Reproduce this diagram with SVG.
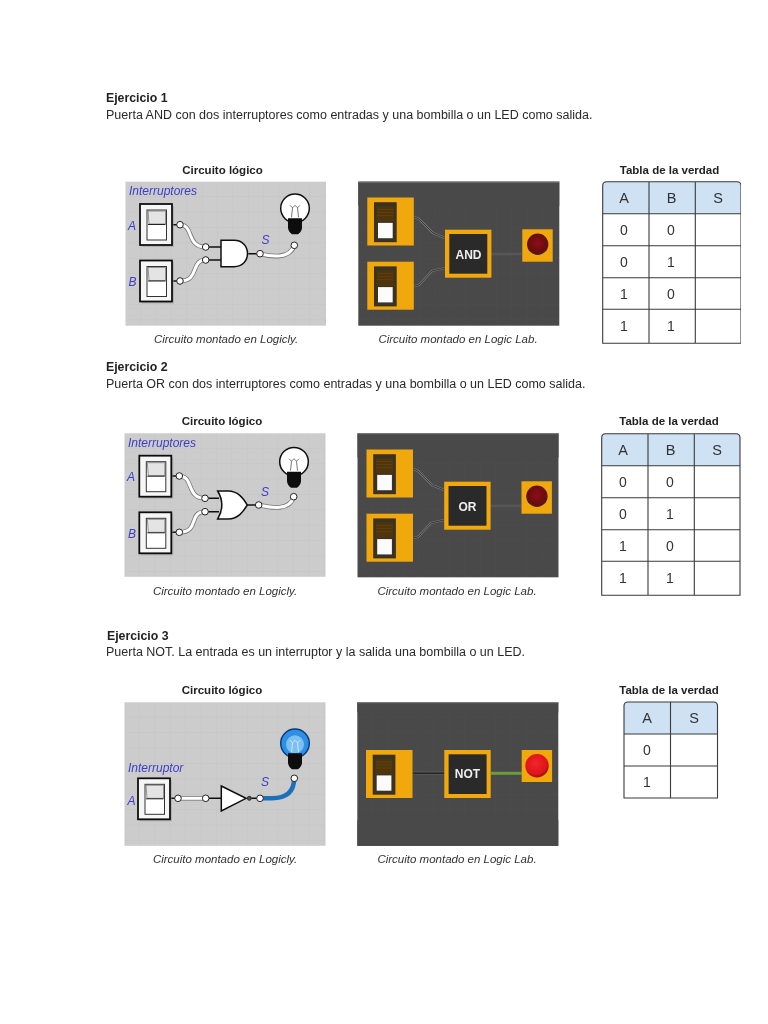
<svg xmlns="http://www.w3.org/2000/svg" width="768" height="1024" viewBox="0 0 768 1024">
<style>
text{font-family:"Liberation Sans",Arial,sans-serif;fill:#222}
.h{font-size:12.300px;font-weight:bold}
.p{font-size:12.500px;fill:#2a2a2a}
.t{font-size:11.500px;font-weight:bold;text-anchor:middle}
.c{font-size:11.500px;font-style:italic;text-anchor:middle;fill:#333}
.l{font-size:12px;font-style:italic;fill:#3c3cc8}
.th{font-size:14.500px;text-anchor:middle;fill:#333}
.td{font-size:14px;text-anchor:middle;fill:#333}
.tl{fill:none;stroke:#3a3a3a;stroke-width:1.100}
.gt{font-size:12px;font-weight:bold;text-anchor:middle;fill:#eee}
.wo{fill:none;stroke:#777;stroke-width:4.600}
.wi{fill:none;stroke:#fff;stroke-width:3}
.wb{fill:none;stroke:#1f6fb8;stroke-width:4.500}
.bk{fill:none;stroke:#111;stroke-width:1.600}
.pin{fill:#fff;stroke:#222;stroke-width:1}
.ww{fill:none;stroke:#7a7a7a;stroke-width:2.200}
.wd{fill:none;stroke:#2e2e2e;stroke-width:0.900}
</style>
<defs>
<filter id="soft" x="0" y="0" width="100%" height="100%"><feGaussianBlur stdDeviation="0.35"/></filter>
<radialGradient id="redOn" cx="0.450" cy="0.400" r="0.600"><stop offset="0" stop-color="#f0272d"/><stop offset="0.750" stop-color="#e0131b"/><stop offset="1" stop-color="#a80e12"/></radialGradient>
<radialGradient id="redOff" cx="0.500" cy="0.450" r="0.600"><stop offset="0" stop-color="#8c0f14"/><stop offset="0.700" stop-color="#6a0d10"/><stop offset="1" stop-color="#3a2a22"/></radialGradient>
<pattern id="gridL" patternUnits="userSpaceOnUse" width="15.400" height="15.400"><rect width="15.400" height="15.400" fill="#cccccc"/><path d="M15.400 0V15.400M0 15.400H15.400" stroke="#c2c2c2" stroke-width="0.800"/></pattern>
<pattern id="gridD" patternUnits="userSpaceOnUse" width="15.400" height="15.400"><rect width="15.400" height="15.400" fill="#4a4a4a"/><path d="M15.400 0V15.400M0 15.400H15.400" stroke="#4d4d4d" stroke-width="0.500"/></pattern>
<g id="swL">
<rect x="2" y="2" width="32" height="41" fill="#9a9a9a" opacity="0.500"/>
<rect x="0" y="0" width="32" height="41" fill="#f6f6f6" stroke="#111" stroke-width="1.800"/>
<rect x="7" y="6" width="19.500" height="30" fill="#fff" stroke="#333" stroke-width="1"/>
<path d="M8 7H25.500V20H9Z" fill="#e4e4e4" stroke="#555" stroke-width="0.600"/>
<path d="M8 20.500H25.500" stroke="#222" stroke-width="1"/>
</g>
<g id="bulb">
<circle cx="0" cy="0" r="14.300" fill="#fff" stroke="#111" stroke-width="1.500"/>
<path d="M-5 -3L-2.500 -0.500L0 -3L2.500 -0.500L5 -3M-2.500 -0.500L-3.500 9M2.500 -0.500L3.500 9" fill="none" stroke="#555" stroke-width="0.800"/>
<path d="M-7 10H7V19Q7 23 3 26H-3Q-7 23 -7 19Z" fill="#0a0a0a"/>
</g>
<g id="bulbOn">
<circle cx="0" cy="0" r="14.300" fill="#2f8fe6" stroke="#0c3d78" stroke-width="1.500"/>
<circle cx="0" cy="1" r="9" fill="#7cc0f2"/>
<path d="M-5 -3L-2.500 -0.500L0 -3L2.500 -0.500L5 -3M-2.500 -0.500L-3.500 9M2.500 -0.500L3.500 9" fill="none" stroke="#dff2ff" stroke-width="0.800"/>
<path d="M-7 10H7V19Q7 23 3 26H-3Q-7 23 -7 19Z" fill="#0a0a0a"/>
</g>
<g id="swD">
<rect x="0" y="0" width="46.500" height="48" fill="#f0a810"/>
<rect x="6.700" y="4.700" width="22.700" height="40" fill="#3a3327"/>
<rect x="9.400" y="8.700" width="17.300" height="15.600" fill="#4f3408"/>
<path d="M10 12H26M10 15H26M10 18H26" stroke="#6e4e16" stroke-width="0.500"/>
<rect x="10.700" y="25.400" width="14.700" height="15.300" fill="#fbfbfb"/>
</g>
<g id="gateD">
<rect x="0" y="0" width="46.400" height="48" fill="#f0a810"/>
<rect x="4.300" y="4.300" width="38" height="39.700" fill="#2b2b2b"/>
</g>
<g id="ledD">
<rect x="0" y="0" width="30.400" height="32.400" fill="#f0a810"/>
<circle cx="15.400" cy="15" r="10.700" fill="url(#redOff)"/>
</g>
</defs>
<rect width="768" height="1024" fill="#fff"/>
<g filter="url(#soft)">

<g id="headings">
<text class="h" x="106" y="102">Ejercicio 1</text>
<text class="p" x="106" y="119">Puerta AND con dos interruptores como entradas y una bombilla o un LED como salida.</text>
<text class="h" x="106" y="371">Ejercicio 2</text>
<text class="p" x="106" y="388">Puerta OR con dos interruptores como entradas y una bombilla o un LED como salida.</text>
<text class="h" x="107" y="640">Ejercicio 3</text>
<text class="p" x="106" y="656">Puerta NOT. La entrada es un interruptor y la salida una bombilla o un LED.</text>
<text class="t" x="222.500" y="174">Circuito lógico</text>
<text class="t" x="222" y="425">Circuito lógico</text>
<text class="t" x="222" y="694">Circuito lógico</text>
<text class="t" x="669.500" y="174">Tabla de la verdad</text>
<text class="t" x="669" y="425">Tabla de la verdad</text>
<text class="t" x="669" y="694">Tabla de la verdad</text>
<text class="c" x="226" y="343">Circuito montado en Logicly.</text>
<text class="c" x="458" y="343">Circuito montado en Logic Lab.</text>
<text class="c" x="225" y="595">Circuito montado en Logicly.</text>
<text class="c" x="457" y="595">Circuito montado en Logic Lab.</text>
<text class="c" x="225" y="863">Circuito montado en Logicly.</text>
<text class="c" x="457" y="863">Circuito montado en Logic Lab.</text>
</g>

<g id="panels">
<rect transform="translate(125.500 181.700)" width="200.500" height="144" fill="url(#gridL)"/>
<rect transform="translate(124.500 433.300)" width="201" height="143.500" fill="url(#gridL)"/>
<rect transform="translate(124.500 702.300)" width="201" height="143.500" fill="url(#gridL)"/>
<g transform="translate(358.300 181.700)"><rect width="201" height="144" fill="url(#gridD)"/><rect width="201" height="24" fill="#494949"/><path d="M0 0.400H201" stroke="#7e7e7e"/></g>
<g transform="translate(357.500 433.300)"><rect width="201" height="144" fill="url(#gridD)"/><rect width="201" height="24" fill="#494949"/><path d="M0 0.400H201" stroke="#7e7e7e"/></g>
<g transform="translate(357.300 702.300)"><rect width="201" height="143.500" fill="url(#gridD)"/><rect width="201" height="10" fill="#494949"/><rect y="118" width="201" height="25.500" fill="#4a4a4a"/><path d="M0 0.400H201" stroke="#7e7e7e"/></g>
</g>

<g id="connectors">
<path class="bk" d="M172 224.700H180M172 281H180M205.700 247H221M205.700 260H221M248.300 253.700H260"/>
<path class="wo" d="M180 224.700C194 224.700 186 247 205.700 247"/><path class="wi" d="M180 224.700C194 224.700 186 247 205.700 247"/>
<path class="wo" d="M180 281C200 281 190 260 205.700 260"/><path class="wi" d="M180 281C200 281 190 260 205.700 260"/>
<path class="wo" d="M260 253.700C272 257 290 259 294.300 245.300"/><path class="wi" d="M260 253.700C272 257 290 259 294.300 245.300"/>

<path class="bk" d="M171.700 476H179.300M171.700 532.300H179.300M205 498.300H219M205 511.700H219M247.300 505H258.700"/>
<path class="wo" d="M179.300 476C194 476 186 498.300 205 498.300"/><path class="wi" d="M179.300 476C194 476 186 498.300 205 498.300"/>
<path class="wo" d="M179.300 532.300C200 532.300 188 511.700 205 511.700"/><path class="wi" d="M179.300 532.300C200 532.300 188 511.700 205 511.700"/>
<path class="wo" d="M258.700 505C272 508 290 511 293.700 496.700"/><path class="wi" d="M258.700 505C272 508 290 511 293.700 496.700"/>

<path class="bk" d="M170 798.300H178M205.700 798.300H221.300M251.300 798.300H260"/>
<path class="wo" d="M178 798.300H205.700"/><path class="wi" d="M178 798.300H205.700"/>
<path class="wb" d="M260 798.300H272C286 798.300 294 792 294.300 778.300"/>

<path class="ww" d="M414 217L419 219L433 233L445 238"/><path class="wd" d="M414 217L419 219L433 233L445 238"/>
<path class="ww" d="M414 286L419 285L432 271L445 268"/><path class="wd" d="M414 286L419 285L432 271L445 268"/>
<path class="ww" d="M491.500 254H522"/><path class="wd" d="M491.500 254H522"/>
<path class="ww" d="M413 469L418 471L432 485L444 490"/><path class="wd" d="M413 469L418 471L432 485L444 490"/>
<path class="ww" d="M413 538L418 537L431 523L444 520"/><path class="wd" d="M413 538L418 537L431 523L444 520"/>
<path class="ww" d="M490.500 506H521"/><path class="wd" d="M490.500 506H521"/>
<path d="M413 773.300H444.500" fill="none" stroke="#777" stroke-width="3"/>
<path d="M413 773.300H444.500" fill="none" stroke="#262626" stroke-width="2"/>
<path d="M490.700 773.300H521.700" fill="none" stroke="#6c9a3c" stroke-width="3"/>
</g>

<g id="logicly1">
<g id="switch1a"><use href="#swL" x="140" y="204"/></g>
<g id="switch1b"><use href="#swL" x="140" y="260.500"/></g>
<g id="and1"><path d="M221 240.300H234C252 240.300 252 266.700 234 266.700H221Z" fill="#fff" stroke="#111" stroke-width="1.500"/></g>
<g id="bulb1"><use href="#bulb" x="295" y="208.300"/></g>
<g class="pin"><circle cx="180" cy="224.700" r="3.300"/><circle cx="180" cy="281" r="3.300"/><circle cx="205.700" cy="247" r="3.300"/><circle cx="205.700" cy="260" r="3.300"/><circle cx="260" cy="253.700" r="3.300"/><circle cx="294.300" cy="245.300" r="3.300"/></g>
<text class="l" x="129" y="195">Interruptores</text>
<text class="l" x="128" y="230">A</text>
<text class="l" x="128.500" y="286">B</text>
<text class="l" x="261.500" y="244">S</text>
</g>

<g id="logicly2">
<g id="switch2a"><use href="#swL" x="139.300" y="455.700"/></g>
<g id="switch2b"><use href="#swL" x="139.300" y="512.300"/></g>
<g id="or2"><path d="M217.700 491H228C238 491 243 498 247.300 505C243 512 238 519 228 519H217.700C223 510 223 500 217.700 491Z" fill="#fff" stroke="#111" stroke-width="1.500"/></g>
<g id="bulb2"><use href="#bulb" x="294" y="461.700"/></g>
<g class="pin"><circle cx="179.300" cy="476" r="3.300"/><circle cx="179.300" cy="532.300" r="3.300"/><circle cx="205" cy="498.300" r="3.300"/><circle cx="205" cy="511.700" r="3.300"/><circle cx="258.700" cy="505" r="3.300"/><circle cx="293.700" cy="496.700" r="3.300"/></g>
<text class="l" x="128" y="447">Interruptores</text>
<text class="l" x="127" y="481">A</text>
<text class="l" x="128" y="538">B</text>
<text class="l" x="261" y="496">S</text>
</g>

<g id="logicly3">
<g id="switch3"><use href="#swL" x="138" y="778.300"/></g>
<g id="not3"><path d="M221.300 786L246 798.300L221.300 811Z" fill="#fff" stroke="#111" stroke-width="1.500"/><circle cx="249.300" cy="798.300" r="2" fill="#555" stroke="#111" stroke-width="0.800"/></g>
<g id="bulb3"><use href="#bulbOn" x="295" y="743.300"/></g>
<g class="pin"><circle cx="178" cy="798.300" r="3.300"/><circle cx="205.700" cy="798.300" r="3.300"/><circle cx="260" cy="798.300" r="3.300"/><circle cx="294.300" cy="778.300" r="3.300"/></g>
<text class="l" x="128" y="772">Interruptor</text>
<text class="l" x="127.500" y="805">A</text>
<text class="l" x="261" y="786">S</text>
</g>

<g id="lab1">
<g id="labSwitch1a"><use href="#swD" x="367.300" y="197.500"/></g>
<g id="labSwitch1b"><use href="#swD" x="367.300" y="261.700"/></g>
<g id="labAnd"><use href="#gateD" x="445" y="229.700"/><text class="gt" x="468.500" y="258.500">AND</text></g>
<g id="labLed1"><use href="#ledD" x="522.300" y="229.300"/></g>
</g>
<g id="lab2">
<g id="labSwitch2a"><use href="#swD" x="366.500" y="449.500"/></g>
<g id="labSwitch2b"><use href="#swD" x="366.500" y="513.700"/></g>
<g id="labOr"><use href="#gateD" x="444.200" y="481.700"/><text class="gt" x="467.500" y="510.500">OR</text></g>
<g id="labLed2"><use href="#ledD" x="521.500" y="481.300"/></g>
</g>
<g id="lab3">
<g id="labSwitch3"><use href="#swD" x="366" y="750"/></g>
<g id="labNot"><use href="#gateD" x="444.300" y="750"/><text class="gt" x="467.500" y="778">NOT</text></g>
<g id="labLed3"><rect x="521.700" y="750" width="30.400" height="32" fill="#f0a810"/><circle cx="537" cy="765.700" r="11.700" fill="url(#redOn)"/></g>
</g>

<g id="table1">
<path d="M602.700 213.700V185.700Q602.700 181.700 606.700 181.700H737Q741 181.700 741 185.700V213.700Z" fill="#cfe2f3"/>
<path class="tl" d="M602.700 213.700V185.700Q602.700 181.700 606.700 181.700H737Q741 181.700 741 185.700V343.300H602.700V213.700H741M602.700 245.700H741M602.700 277.700H741M602.700 309.300H741M649 181.700V343.300M695.300 181.700V343.300"/>
<text class="th" x="624" y="203">A</text><text class="th" x="671.500" y="203">B</text><text class="th" x="718" y="203">S</text>
<text class="td" x="624" y="235">0</text><text class="td" x="671" y="235">0</text>
<text class="td" x="624" y="267">0</text><text class="td" x="671" y="267">1</text>
<text class="td" x="624" y="299">1</text><text class="td" x="671" y="299">0</text>
<text class="td" x="624" y="331">1</text><text class="td" x="671" y="331">1</text>
</g>
<g id="table2" transform="translate(-1 252)">
<path d="M602.700 213.700V185.700Q602.700 181.700 606.700 181.700H737Q741 181.700 741 185.700V213.700Z" fill="#cfe2f3"/>
<path class="tl" d="M602.700 213.700V185.700Q602.700 181.700 606.700 181.700H737Q741 181.700 741 185.700V343.300H602.700V213.700H741M602.700 245.700H741M602.700 277.700H741M602.700 309.300H741M649 181.700V343.300M695.300 181.700V343.300"/>
<text class="th" x="624" y="203">A</text><text class="th" x="671.500" y="203">B</text><text class="th" x="718" y="203">S</text>
<text class="td" x="624" y="235">0</text><text class="td" x="671" y="235">0</text>
<text class="td" x="624" y="267">0</text><text class="td" x="671" y="267">1</text>
<text class="td" x="624" y="299">1</text><text class="td" x="671" y="299">0</text>
<text class="td" x="624" y="331">1</text><text class="td" x="671" y="331">1</text>
</g>
<g id="table3">
<path d="M624 734V706Q624 702 628 702H713.500Q717.500 702 717.500 706V734Z" fill="#cfe2f3"/>
<path class="tl" d="M624 734V706Q624 702 628 702H713.500Q717.500 702 717.500 706V798H624V734H717.500M624 766H717.500M670.500 702V798"/>
<text class="th" x="647" y="723">A</text><text class="th" x="694" y="723">S</text>
<text class="td" x="647" y="755">0</text><text class="td" x="647" y="787">1</text>
</g>
</g>
</svg>
